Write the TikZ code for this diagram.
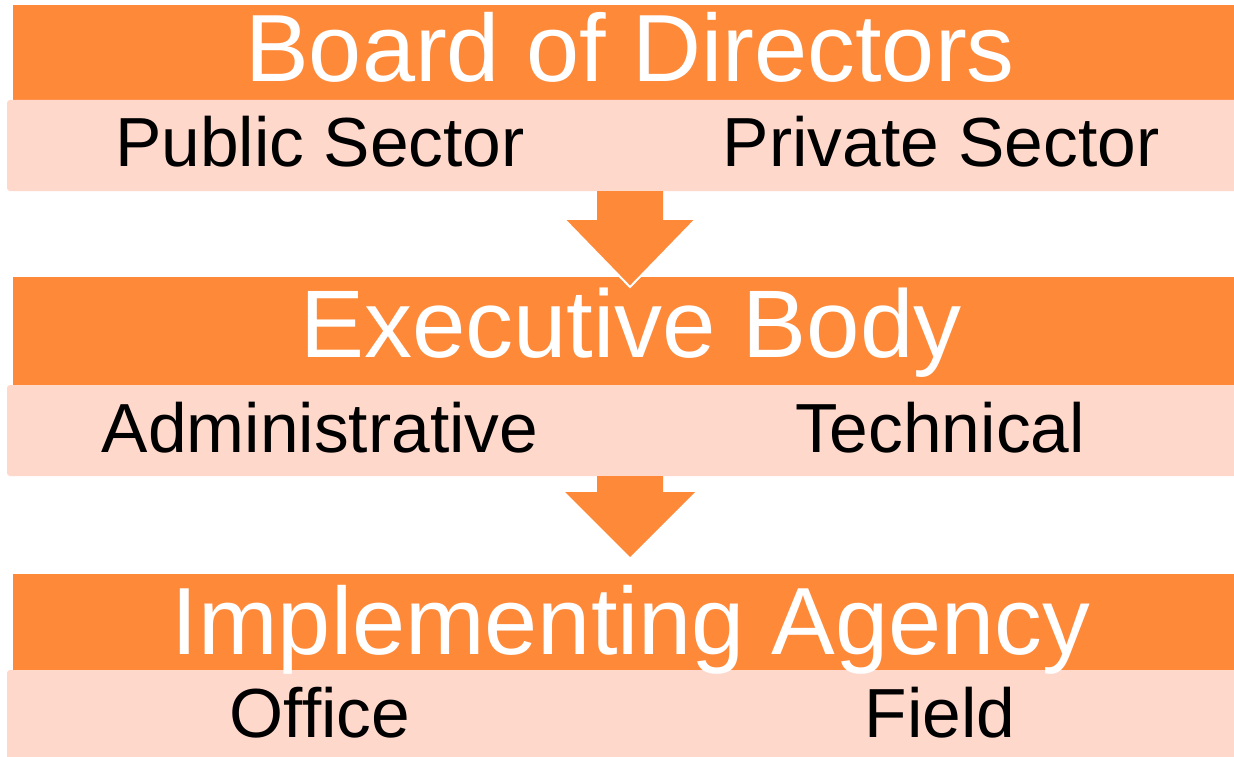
\documentclass[tikz,border=0pt]{standalone}
\usepackage{fontspec}
\setmainfont{Liberation Sans}
\usetikzlibrary{calc}
\definecolor{bandorange}{RGB}{254,137,57}
\definecolor{bandpink}{RGB}{255,216,204}
\begin{document}
\begin{tikzpicture}[x=1pt,y=-1pt,
  orangeband/.style={fill=bandorange, draw=none, inner sep=0pt, minimum width=1227pt},
  pinkband/.style={fill=bandpink, draw=none, inner sep=0pt, rounded corners=3pt, minimum width=1233pt, minimum height=91pt},
  titletext/.style={text=white, anchor=base, inner sep=0pt},
  subtext/.style={text=black, anchor=base, inner sep=0pt, font=\fontsize{69.5}{80}\selectfont},
  blockarrow/.style={fill=bandorange, draw=none},
  arrowedge/.style={draw=white, line width=2pt}
]
\useasboundingbox (0,0) rectangle (1234,757);
\begin{scope}
\clip (0,0) rectangle (1234,757);
% band 1
\node[orangeband, minimum height=95pt] (orange1) at (626.5,52.5) {};
\node[pinkband] (pink1) at (623.5,145.5) {};
% band 2
\node[orangeband, minimum height=108pt] (orange2) at (626.5,331) {};
\node[pinkband] (pink2) at (623.5,430.5) {};
% band 3
\node[orangeband, minimum height=96pt] (orange3) at (626.5,622) {};
\node[pinkband, minimum height=92pt] (pink3) at (623.5,716) {};
\end{scope}
% arrows
\coordinate (a1top) at (630,191);
\coordinate (a1tip) at (630,287);
\fill[blockarrow] ($(a1top)+(-33,0)$) -- ($(a1top)+(33,0)$) -- ($(a1top)+(33,29)$) -- ($(a1top)+(65,29)$) -- (a1tip) -- ($(a1top)+(-65,29)$) -- ($(a1top)+(-33,29)$) -- cycle;
\draw[arrowedge] ($(a1top)+(-65,29)$) -- (a1tip) -- ($(a1top)+(65,29)$);
\coordinate (a2top) at (630,476);
\coordinate (a2tip) at (630,557);
\fill[blockarrow] ($(a2top)+(-33,0)$) -- ($(a2top)+(33,0)$) -- ($(a2top)+(33,16)$) -- ($(a2top)+(65,16)$) -- (a2tip) -- ($(a2top)+(-65,16)$) -- ($(a2top)+(-33,16)$) -- cycle;
% texts
\node[titletext, font=\fontsize{95.5}{100}\selectfont] (t1) at (630,82) {Board of Directors};
\node[subtext] (s1a) at (320,167) {Public Sector};
\node[subtext] (s1b) at (941,167) {Private Sector};
\node[titletext, font=\fontsize{96}{104}\selectfont] (t2) at (631,357) {Executive Body};
\node[subtext] (s2a) at (320,452) {Administrative};
\node[subtext] (s2b) at (940,452) {Technical};
\node[titletext, font=\fontsize{95.5}{100}\selectfont] (t3) at (631,654) {Implementing Agency};
\node[subtext] (s3a) at (320,737) {Office};
\node[subtext] (s3b) at (940,737) {Field};
\end{tikzpicture}
\end{document}
